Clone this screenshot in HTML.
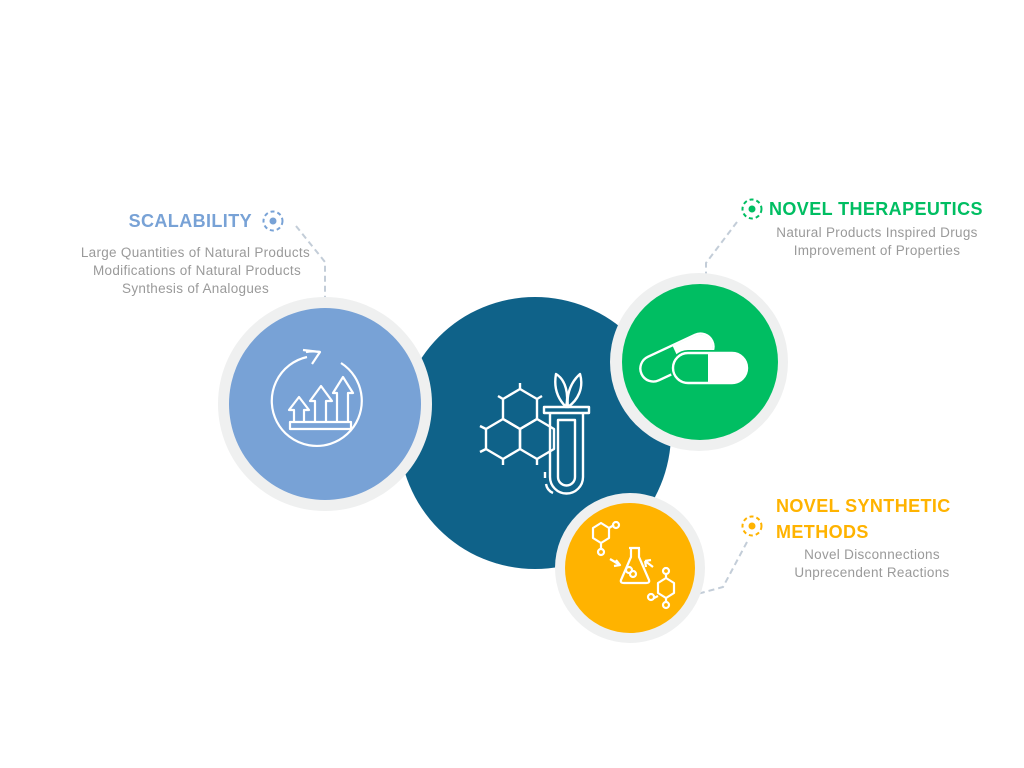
<!DOCTYPE html>
<html><head><meta charset="utf-8"><style>
html,body{margin:0;padding:0;background:#fff;}
svg{display:block}
text{font-family:"Liberation Sans",Arial,sans-serif}
</style></head><body>
<svg width="1024" height="768" viewBox="0 0 1024 768" xmlns="http://www.w3.org/2000/svg">
<g fill="none" stroke="#c3cdd8" stroke-width="2" stroke-dasharray="6,4">
<polyline points="296,226 325,262 325,302"/>
<polyline points="737,222 706,263 706,280"/>
<polyline points="747,542 723,587 690,596"/>
</g>
<circle cx="535" cy="433" r="136" fill="#0f6289"/>
<circle cx="325" cy="404" r="107" fill="#eff0f0"/>
<circle cx="325" cy="404" r="96" fill="#78a2d6"/>
<circle cx="699" cy="362" r="89" fill="#eff0f0"/>
<circle cx="700" cy="362" r="78" fill="#00be62"/>
<circle cx="630" cy="568" r="75" fill="#eff0f0"/>
<circle cx="630" cy="568" r="65" fill="#ffb300"/>

<g fill="none" stroke="#fff" stroke-width="2.2" stroke-linejoin="round">
<path d="M341,363 A45,45 0 1 1 307,357"/>
<path d="M303,350 L320,352 L312,364" />
<path d="M306,352 A45,45 0 0 1 320,352"/>
<rect x="290" y="422" width="61" height="7"/>
<path d="M294,422 V410 H289 L299,397 L309,410 H304 V422"/>
<path d="M315,422 V401 H310 L321,386 L332,401 H326 V422"/>
<path d="M337,422 V393 H333 L343,377 L353,393 H348 V422"/>
</g>

<g fill="none" stroke="#fff" stroke-width="2.4" stroke-linejoin="round">
<path d="M503,399 L520,389 L537,399 L537,419 L520,429 L503,419 Z"/>
<path d="M486,429 L503,419 L520,429 L520,449 L503,459 L486,449 Z"/>
<path d="M520,429 L537,419 L554,429 L554,449 L537,459 L520,449 Z"/>
<path d="M520,389 V383 M498,396 L503,399 M542,396 L537,399 M480,426 L486,429 M480,452 L486,449 M503,459 V465 M537,459 V465"/>
<path d="M544,407 H589 V413 H544 Z"/>
<path d="M550,413 V477 A11,11 0 0 0 583,477 V413"/>
<path d="M558,420 V477 A8,8 0 0 0 575,477 V420 Z"/>
<path d="M545,472 V478 M546,484 A12,12 0 0 0 553,493"/>
<path d="M566,407 C556,397 554,385 556,374 C566,380 569,395 566,407 Z"/>
<path d="M568,407 C566,393 572,381 580,374 C584,388 578,400 568,407 Z"/>
</g>

<g transform="rotate(-25 676 358)">
<rect x="638" y="345" width="78" height="26" rx="13" fill="none" stroke="#fff" stroke-width="2.4"/>
<path d="M678,346 H703 A12,12 0 0 1 703,370 H678 Z" fill="#fff"/>
</g>
<rect x="670" y="350" width="80" height="36" rx="18" fill="#00be62"/>
<rect x="673" y="353" width="74" height="30" rx="15" fill="none" stroke="#fff" stroke-width="2.4"/>
<path d="M708,353 H732 A15,15 0 0 1 732,383 H708 Z" fill="#fff"/>

<g fill="none" stroke="#fff" stroke-width="2.2" stroke-linejoin="round">
<path d="M593,528 L601,523 L609,528 L609,538 L601,543 L593,538 Z"/>
<path d="M609,528 L614,525"/><circle cx="616" cy="525" r="3"/>
<path d="M601,543 V548"/><circle cx="601" cy="552" r="3"/>
<path d="M610,559 L620,565 M616,560 L620,565 L614,566"/>
<path d="M629,548 H640 M631,548 V557 L621,580 Q620,583 624,583 H646 Q650,583 649,580 L639,557 V548"/>
<circle cx="629" cy="570" r="3"/><circle cx="633" cy="574" r="3"/>
<path d="M653,567 L645,561 M645,561 L651,560 M645,561 L646,567"/>
<circle cx="666" cy="571" r="3"/><path d="M666,574 V578"/>
<path d="M658,583 L666,578 L674,583 L674,593 L666,598 L658,593 Z"/>
<path d="M658,596 L654,598"/><circle cx="651" cy="597" r="3"/>
<path d="M666,598 V601"/><circle cx="666" cy="605" r="3"/>
</g>

<g fill="none" stroke-width="2" stroke-dasharray="4,3">
<circle cx="273" cy="221" r="9.5" stroke="#78a2d6"/>
<circle cx="752" cy="209" r="9.5" stroke="#00be62"/>
<circle cx="752" cy="526" r="9.5" stroke="#ffb300"/>
</g>
<circle cx="273" cy="221" r="3.5" fill="#78a2d6"/>
<circle cx="752" cy="209" r="3.5" fill="#00be62"/>
<circle cx="752" cy="526" r="3.5" fill="#ffb300"/>

<text x="252" y="227" text-anchor="end" font-size="18" font-weight="bold" fill="#78a2d6" letter-spacing="0.4">SCALABILITY</text>
<g font-size="13.5" fill="#9a9a9a" text-anchor="end" letter-spacing="0.3">
<text x="310" y="257">Large Quantities of Natural Products</text>
<text x="301" y="275">Modifications of Natural Products</text>
<text x="269" y="293">Synthesis of Analogues</text>
</g>
<text x="769" y="215" font-size="18" font-weight="bold" fill="#00be62" letter-spacing="0.4">NOVEL THERAPEUTICS</text>
<g font-size="13.5" fill="#9a9a9a" text-anchor="middle" letter-spacing="0.3">
<text x="877" y="237">Natural Products Inspired Drugs</text>
<text x="877" y="255">Improvement of Properties</text>
</g>
<text x="776" y="512" font-size="18" font-weight="bold" fill="#ffb300" letter-spacing="0.4">NOVEL SYNTHETIC</text>
<text x="776" y="538" font-size="18" font-weight="bold" fill="#ffb300" letter-spacing="0.4">METHODS</text>
<g font-size="13.5" fill="#9a9a9a" text-anchor="middle" letter-spacing="0.3">
<text x="872" y="559">Novel Disconnections</text>
<text x="872" y="577">Unprecendent Reactions</text>
</g>
</svg>
</body></html>
